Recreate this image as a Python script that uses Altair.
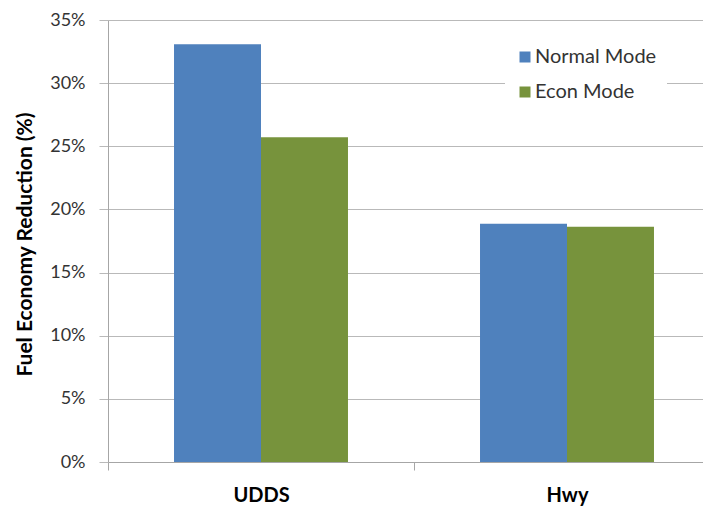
import altair as alt
import pandas as pd

cycles = ["UDDS", "UDDS", "Hwy", "Hwy"]
modes = ["Normal Mode", "Econ Mode", "Normal Mode", "Econ Mode"]
reduction = [0.3308, 0.2572, 0.1886, 0.1863]

mode_order = ["Normal Mode", "Econ Mode"]
mode_colors = ["#4F81BD", "#77933C"]
cycle_order = ["UDDS", "Hwy"]
y_ticks = [0, 0.05, 0.10, 0.15, 0.20, 0.25, 0.30, 0.35]

df = pd.DataFrame({"cycle": cycles, "mode": modes, "value": reduction})

FONT = "Lato"

chart = alt.Chart(df).mark_bar().encode(
    x=alt.X(
        "cycle:N",
        sort=cycle_order,
        scale=alt.Scale(domain=cycle_order, range=[0, 612], paddingInner=0, paddingOuter=0),
        axis=alt.Axis(
            title=None,
            tickBand="extent",
            tickSize=8,
            tickColor="#a6a6a6",
            domainColor="#a6a6a6",
            labelAngle=0,
            labelFont=FONT,
            labelFontSize=20,
            labelFontWeight="bold",
            labelColor="#000000",
            labelBaseline="alphabetic",
            labelPadding=31,
            grid=False,
        ),
    ),
    xOffset=alt.XOffset(
        "mode:N",
        sort=mode_order,
        scale=alt.Scale(domain=mode_order, paddingInner=0, paddingOuter=0.759),
    ),
    y=alt.Y(
        "value:Q",
        scale=alt.Scale(domain=[0, 0.35], nice=False),
        axis=alt.Axis(
            values=y_ticks,
            format=".0%",
            title="Fuel Economy Reduction (%)",
            titleFont=FONT,
            titleFontSize=21,
            titleFontWeight="bold",
            titleColor="#000000",
            titleX=-77,
            titleY=224,
            titleBaseline="alphabetic",
            titleAngle=-90,
            labelFont=FONT,
            labelFontSize=18,
            labelColor="#333333",
            labelPadding=14,
            tickSize=9,
            tickColor="#b9b9b9",
            domainColor="#a6a6a6",
            gridColor="#b9b9b9",
            grid=True,
        ),
    ),
    color=alt.Color(
        "mode:N",
        sort=mode_order,
        scale=alt.Scale(domain=mode_order, range=mode_colors),
        legend=alt.Legend(
            title=None,
            orient="none",
            legendX=397,
            legendY=17,
            fillColor="white",
            padding=10,
            symbolType="square",
            symbolSize=121,
            symbolStrokeWidth=0,
            labelFont=FONT,
            labelFontSize=20,
            labelColor="#333333",
            labelOffset=0,
            rowPadding=15,
        ),
    ),
).properties(
    width=595,
    height=442,
    autosize=alt.AutoSizeParams(type="none"),
    padding={"left": 100, "top": 12, "right": 0, "bottom": 44},
).configure_view(stroke=None)

chart.save("out.html", embed_options={"renderer": "svg", "actions": False})
